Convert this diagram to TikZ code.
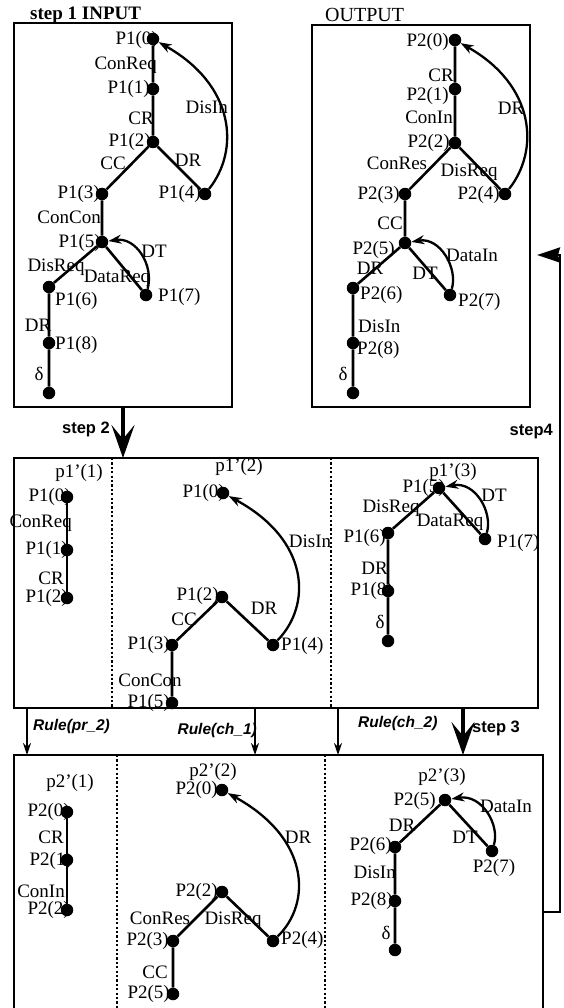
\documentclass[tikz,border=0pt]{standalone}
\usepackage{fontspec}
\setmainfont{Liberation Serif}
\newfontfamily\lsans{Liberation Sans}
\usetikzlibrary{arrows.meta}
\begin{document}
\begin{tikzpicture}[x=1pt,y=-1pt,
  dot/.style={circle,fill=black,inner sep=0pt,minimum size=12.5pt},
  lbl/.style={inner sep=0pt,font=\fontsize{19}{19}\selectfont},
  edge/.style={line width=2.6pt},
  curv/.style={line width=2.3pt,-{Stealth[length=13pt,width=9pt]}},
  frame/.style={line width=2.1pt},
  sepline/.style={line width=2.2pt,dash pattern=on 2.2pt off 2.2pt},
  stepl/.style={inner sep=0pt,font=\lsans\bfseries\fontsize{16.5}{16}\selectfont},
  rulel/.style={inner sep=0pt,font=\lsans\bfseries\itshape\fontsize{15.5}{16}\selectfont},
  thinarr/.style={line width=1.7pt,-{Stealth[length=12pt,width=8pt]}},
  bigarr/.style={line width=3.2pt,-{Stealth[length=33pt,width=23pt,inset=14pt]}},
  backarr/.style={line width=2.5pt,-{Stealth[length=23pt,width=15pt,inset=2pt]}}
]
\useasboundingbox (0,0) rectangle (563,1008);
\clip (0,0) rectangle (563,1008);

% ---------- frames ----------
\draw[frame] (14,23) rectangle (232,407);
\draw[frame] (312,25) rectangle (530,407);
\draw[frame] (14,458) rectangle (538,708);
\draw[frame] (14,1020) -- (14,755) -- (543,755) -- (543,1020);
\draw[sepline] (112,458) -- (112,708);
\draw[sepline] (331,458) -- (331,708);
\draw[sepline] (117,755) -- (117,1020);
\draw[sepline] (325,755) -- (325,1020);

\node[inner sep=0pt,anchor=base west,font=\bfseries\fontsize{19}{18}\selectfont] (t1) at (30,20) {step 1 INPUT};
\node[inner sep=0pt,anchor=base west,font=\fontsize{20}{19}\selectfont] (t2) at (325,22) {OUTPUT};

% ---------- top-left: INPUT ----------
\node[lbl,anchor=east] (la0) at (158,40) {P1(0)};
\node[lbl,anchor=east] (lcr1) at (157,65) {ConReq};
\node[lbl,anchor=east] (la1) at (150,89) {P1(1)};
\node[lbl,anchor=east] (lcr2) at (154,118) {CR};
\node[lbl,anchor=east] (la2) at (151,142) {P1(2)};
\node[lbl,anchor=east] (ldis) at (228,107) {DisIn};
\node[lbl] (lcc) at (113,163) {CC};
\node[lbl] (ldr) at (188,160) {DR};
\node[lbl,anchor=east] (la3) at (100,194) {P1(3)};
\node[lbl,anchor=east] (la4) at (201,194) {P1(4)};
\node[lbl,anchor=east] (lcc2) at (101,217) {ConCon};
\node[lbl,anchor=east] (la5) at (101,243) {P1(5)};
\node[lbl] (ldt) at (154,251) {DT};
\node[lbl] (ldrq) at (56,267) {DisReq};
\node[lbl] (ldtr) at (117,278) {DataReq};
\node[lbl,anchor=west] (la6) at (55,301) {P1(6)};
\node[lbl,anchor=west] (la7) at (158,297) {P1(7)};
\node[lbl] (ldr2) at (38,325) {DR};
\node[lbl,anchor=west] (la8) at (55,345) {P1(8)};
\node[lbl] (ldel) at (39,374) {δ};

\node[dot] (a0) at (153,39) {};
\node[dot] (a1) at (153,89) {};
\node[dot] (a2) at (153,142) {};
\node[dot] (a3) at (102,194) {};
\node[dot] (a4) at (205,194) {};
\node[dot] (a5) at (102,242) {};
\node[dot] (a6) at (49,287) {};
\node[dot] (a7) at (146,295) {};
\node[dot] (a8) at (49,343) {};
\node[dot] (a9) at (49,393) {};
\draw[edge] (a0) -- (a1) (a1) -- (a2) (a2) -- (a3) (a2) -- (a4) (a3) -- (a5)
  (a5) -- (a6) (a5) -- (a7) (a6) -- (a8) (a8) -- (a9);
\draw[curv] (a4) .. controls (240,150) and (235,85) .. (a0);
\draw[curv] (a7) .. controls (154,265) and (136,237) .. (a5);

% ---------- top-right: OUTPUT ----------
\node[lbl,anchor=east] (lb0) at (449,42) {P2(0)};
\node[lbl,anchor=east] (lbcr) at (454,75) {CR};
\node[lbl,anchor=east] (lb1) at (449,96) {P2(1)};
\node[lbl,anchor=east] (lbci) at (453,117) {ConIn};
\node[lbl,anchor=east] (lb2) at (450,143) {P2(2)};
\node[lbl] (lbdr) at (511,108) {DR};
\node[lbl] (lbcres) at (397,163) {ConRes};
\node[lbl] (lbdrq) at (469,172) {DisReq};
\node[lbl,anchor=east] (lb3) at (400,195) {P2(3)};
\node[lbl,anchor=east] (lb4) at (500,195) {P2(4)};
\node[lbl,anchor=east] (lbcc) at (403,223) {CC};
\node[lbl,anchor=east] (lb5) at (395,250) {P2(5)};
\node[lbl] (lbdr2) at (370,268) {DR};
\node[lbl] (lbdt) at (425,273) {DT};
\node[lbl,anchor=west] (lbdi) at (446,255) {DataIn};
\node[lbl,anchor=west] (lb6) at (360,295) {P2(6)};
\node[lbl,anchor=west] (lb7) at (458,302) {P2(7)};
\node[lbl,anchor=west] (lbdis) at (358,326) {DisIn};
\node[lbl,anchor=west] (lb8) at (357,350) {P2(8)};
\node[lbl] (lbdel) at (343,374) {δ};

\node[dot] (b0) at (455,40) {};
\node[dot] (b1) at (455,89) {};
\node[dot] (b2) at (455,143) {};
\node[dot] (b3) at (405,194) {};
\node[dot] (b4) at (505,194) {};
\node[dot] (b5) at (405,243) {};
\node[dot] (b6) at (353,288) {};
\node[dot] (b7) at (450,295) {};
\node[dot] (b8) at (353,343) {};
\node[dot] (b9) at (353,393) {};
\draw[edge] (b0) -- (b1) (b1) -- (b2) (b2) -- (b3) (b2) -- (b4) (b3) -- (b5)
  (b5) -- (b6) (b5) -- (b7) (b6) -- (b8) (b8) -- (b9);
\draw[curv] (b4) .. controls (540,150) and (535,85) .. (b0);
\draw[curv] (b7) .. controls (458,268) and (440,237) .. (b5);

% ---------- step 2 ----------
\coordinate (s2a) at (123,407);
\coordinate (s2b) at (123,458);
\draw[bigarr] (s2a) -- (s2b);
\node[stepl,anchor=east] (ls2) at (110,429) {step 2};

% ---------- middle band ----------
\node[lbl] (lp11) at (79,473) {p1'(1)};
\node[lbl,anchor=east] (lc0) at (71,497) {P1(0)};
\node[lbl,anchor=east] (lccr) at (72,523) {ConReq};
\node[lbl,anchor=east] (lc1) at (68,550) {P1(1)};
\node[lbl,anchor=east] (lccr2) at (64,578) {CR};
\node[lbl,anchor=east] (lc2) at (68,598) {P1(2)};
\node[dot] (c0) at (67,497) {};
\node[dot] (c1) at (67,550) {};
\node[dot] (c2) at (67,598) {};
\draw[edge] (c0) -- (c1) (c1) -- (c2);

\node[lbl] (lp12) at (239,467) {p1'(2)};
\node[lbl,anchor=east] (ld0) at (225,493) {P1(0)};
\node[lbl] (lddis) at (310,541) {DisIn};
\node[lbl,anchor=east] (ld2) at (219,596) {P1(2)};
\node[lbl] (ldcc) at (184,619) {CC};
\node[lbl] (lddr) at (264,608) {DR};
\node[lbl,anchor=east] (ld3) at (170,645) {P1(3)};
\node[lbl,anchor=west] (ld4) at (281,646) {P1(4)};
\node[lbl] (ldcon) at (150,680) {ConCon};
\node[lbl,anchor=east] (ld5) at (170,703) {P1(5)};
\node[dot] (d0) at (223,493) {};
\node[dot] (d2) at (222,597) {};
\node[dot] (d3) at (172,645) {};
\node[dot] (d4) at (273,645) {};
\node[dot] (d5) at (172,703) {};
\draw[edge] (d2) -- (d3) (d2) -- (d4) (d3) -- (d5);
\draw[curv] (d4) .. controls (312,605) and (310,540) .. (d0);

\node[lbl] (lp13) at (453,472) {p1'(3)};
\node[lbl,anchor=east] (le5) at (445,488) {P1(5)};
\node[lbl] (ledt) at (494,495) {DT};
\node[lbl] (ledrq) at (391,508) {DisReq};
\node[lbl] (ledtr) at (450,522) {DataReq};
\node[lbl,anchor=east] (le6) at (386,538) {P1(6)};
\node[lbl,anchor=west] (le7) at (497,543) {P1(7)};
\node[lbl,anchor=east] (ledr) at (388,568) {DR};
\node[lbl,anchor=east] (le8) at (393,591) {P1(8)};
\node[lbl] (ledel) at (380,622) {δ};
\node[dot] (e5) at (439,488) {};
\node[dot] (e6) at (388,533) {};
\node[dot] (e7) at (485,539) {};
\node[dot] (e8) at (388,591) {};
\node[dot] (e9) at (388,641) {};
\draw[edge] (e5) -- (e6) (e5) -- (e7) (e6) -- (e8) (e8) -- (e9);
\draw[curv] (e7) .. controls (493,512) and (475,481) .. (e5);

% ---------- rule arrows ----------
\coordinate (r1a) at (27,708);  \coordinate (r1b) at (27,755);
\coordinate (r2a) at (255,708); \coordinate (r2b) at (255,755);
\coordinate (r3a) at (338,708); \coordinate (r3b) at (338,755);
\draw[thinarr] (r1a) -- (r1b);
\draw[thinarr] (r2a) -- (r2b);
\draw[thinarr] (r3a) -- (r3b);
\node[rulel,anchor=west] (lr1) at (33,726) {Rule(pr\_2)};
\node[rulel,anchor=east] (lr2) at (257,730) {Rule(ch\_1)};
\node[rulel,anchor=west] (lr3) at (358,723) {Rule(ch\_2)};
\coordinate (s3a) at (463,708);
\coordinate (s3b) at (463,755);
\draw[bigarr] (s3a) -- (s3b);
\node[stepl,anchor=west] (ls3) at (472,728) {step 3};

% ---------- bottom band ----------
\node[lbl] (lp21) at (70,783) {p2'(1)};
\node[lbl,anchor=east] (lf0) at (70,812) {P2(0)};
\node[lbl,anchor=east] (lfcr) at (64,837) {CR};
\node[lbl,anchor=east] (lf1) at (72,861) {P2(1)};
\node[lbl,anchor=east] (lfci) at (65,891) {ConIn};
\node[lbl,anchor=east] (lf2) at (70,910) {P2(2)};
\node[dot] (f0) at (67,812) {};
\node[dot] (f1) at (67,860) {};
\node[dot] (f2) at (67,910) {};
\draw[edge] (f0) -- (f1) (f1) -- (f2);

\node[lbl] (lp22) at (213,772) {p2'(2)};
\node[lbl,anchor=east] (lg0) at (218,790) {P2(0)};
\node[lbl] (lgdr) at (298,837) {DR};
\node[lbl,anchor=east] (lg2) at (218,892) {P2(2)};
\node[lbl] (lgcres) at (160,918) {ConRes};
\node[lbl] (lgdrq) at (233,920) {DisReq};
\node[lbl,anchor=east] (lg3) at (169,941) {P2(3)};
\node[lbl,anchor=west] (lg4) at (281,940) {P2(4)};
\node[lbl,anchor=east] (lgcc) at (168,972) {CC};
\node[lbl,anchor=east] (lg5) at (170,994) {P2(5)};
\node[dot] (g0) at (222,790) {};
\node[dot] (g2) at (222,892) {};
\node[dot] (g3) at (173,941) {};
\node[dot] (g4) at (273,941) {};
\node[dot] (g5) at (173,994) {};
\draw[edge] (g2) -- (g3) (g2) -- (g4) (g3) -- (g5);
\draw[curv] (g4) .. controls (312,903) and (310,838) .. (g0);

\node[lbl] (lp23) at (442,777) {p2'(3)};
\node[lbl,anchor=east] (lh5) at (436,801) {P2(5)};
\node[lbl,anchor=west] (lhdi) at (480,806) {DataIn};
\node[lbl] (lhdr) at (402,825) {DR};
\node[lbl] (lhdt) at (465,837) {DT};
\node[lbl,anchor=east] (lh6) at (392,846) {P2(6)};
\node[lbl] (lh7) at (494,868) {P2(7)};
\node[lbl,anchor=east] (lhdis) at (396,872) {DisIn};
\node[lbl,anchor=east] (lh8) at (393,901) {P2(8)};
\node[lbl] (lhdel) at (386,933) {δ};
\node[dot] (h5) at (445,800) {};
\node[dot] (h6) at (395,847) {};
\node[dot] (h7) at (492,851) {};
\node[dot] (h8) at (395,901) {};
\node[dot] (h9) at (395,950) {};
\draw[edge] (h5) -- (h6) (h5) -- (h7) (h6) -- (h8) (h8) -- (h9);
\draw[curv] (h7) .. controls (500,825) and (482,794) .. (h5);

% ---------- step 4 ----------
\coordinate (s4a) at (543,912);
\coordinate (s4c1) at (560,912);
\coordinate (s4c2) at (560,255);
\coordinate (s4b) at (537,255);
\draw[backarr] (s4a) -- (s4c1) -- (s4c2) -- (s4b);
\node[stepl,anchor=east] (ls4) at (553,432) {step4};
\end{tikzpicture}
\end{document}
